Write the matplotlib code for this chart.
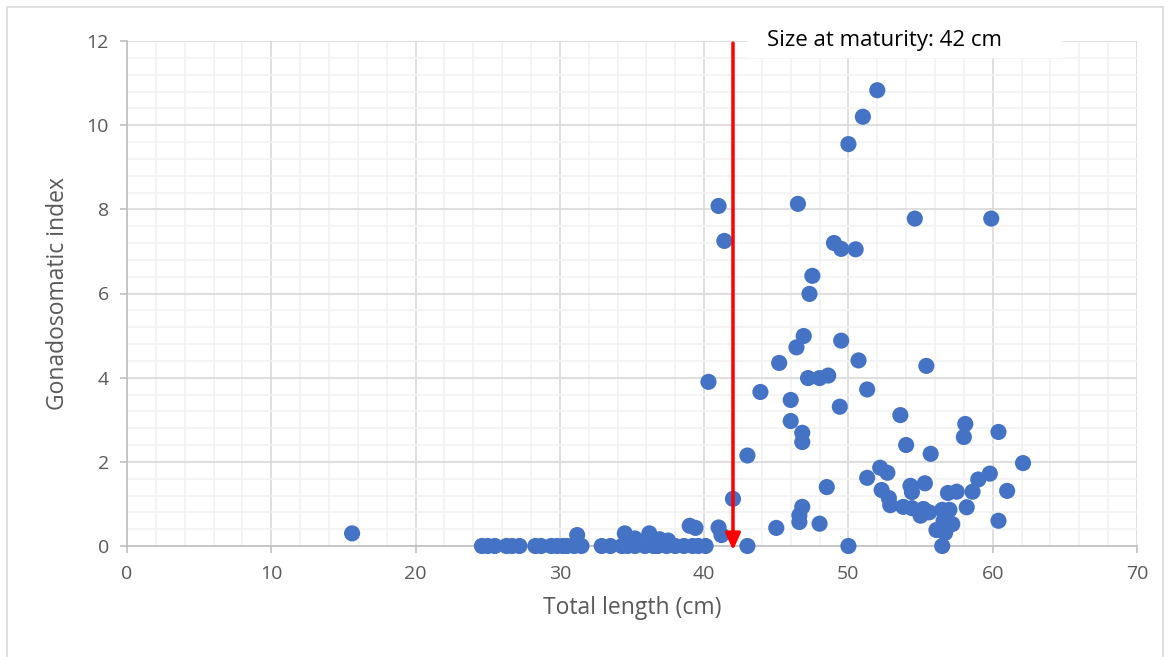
import matplotlib
matplotlib.use("Agg")
import matplotlib.pyplot as plt
from matplotlib.patches import Rectangle
import numpy as np

plt.rcParams['font.family'] = ['Open Sans', 'DejaVu Sans']

# fish that were measured but had no measurable gonads (GSI = 0)
zero_len = [24.6, 25.0, 25.5, 26.3, 26.7, 27.2, 28.3, 28.7, 29.4, 29.8, 30.2,
            30.5, 31.0, 31.5, 32.9, 33.5, 34.3, 34.7, 35.2, 35.9, 36.5, 36.8,
            37.4, 38.0, 38.6, 39.2, 39.6, 40.1, 43.0, 50.0, 56.5]

# small juveniles with slight GSI
low_len = [15.6, 31.2, 34.5, 35.2, 36.2, 36.9, 37.5, 39.0, 39.4, 41.0, 41.2]
low_gsi = [0.3, 0.26, 0.3, 0.18, 0.3, 0.16, 0.13, 0.48, 0.43, 0.44, 0.26]

# adults
big_len = [40.3, 41.0, 41.4, 42.0, 43.0, 43.9, 45.0, 45.2, 46.0, 46.0, 46.4,
           46.5, 46.6, 46.6, 46.8, 46.8, 46.8, 46.9, 47.2, 47.3, 47.5, 48.0,
           48.0, 48.5, 48.6, 49.0, 49.4, 49.5, 49.5, 50.0, 50.5, 50.7, 51.0,
           51.3, 51.3, 52.0, 52.2, 52.3, 52.7, 52.8, 52.9, 53.6, 53.8, 54.0,
           54.3, 54.4, 54.4, 54.6, 55.0, 55.2, 55.3, 55.4, 55.6, 55.7, 56.1,
           56.5, 56.6, 56.7, 56.9, 57.0, 57.2, 57.5, 58.0, 58.1, 58.2, 58.6,
           59.0, 59.8, 59.9, 60.4, 60.4, 61.0, 62.1]
big_gsi = [3.9, 8.08, 7.25, 1.12, 2.15, 3.66, 0.43, 4.35, 3.47, 2.97, 4.72,
           8.13, 0.57, 0.73, 0.93, 2.69, 2.47, 4.99, 3.99, 5.99, 6.42, 3.99,
           0.53, 1.4, 4.05, 7.2, 3.31, 4.88, 7.06, 9.55, 7.05, 4.41, 10.2,
           3.72, 1.62, 10.83, 1.86, 1.33, 1.74, 1.14, 0.97, 3.11, 0.93, 2.4,
           1.43, 1.28, 0.9, 7.78, 0.72, 0.88, 1.49, 4.28, 0.8, 2.19, 0.38,
           0.86, 0.6, 0.31, 1.26, 0.86, 0.52, 1.29, 2.59, 2.9, 0.92, 1.29,
           1.58, 1.72, 7.78, 2.71, 0.6, 1.31, 1.97]

maturity = 42

x = np.concatenate([zero_len, low_len, big_len])
y = np.concatenate([np.zeros(len(zero_len)), low_gsi, big_gsi])

fig = plt.figure(figsize=(11.7, 6.57), dpi=100)
ax = fig.add_axes([127/1170, 1-546/657, 1010/1170, 505/657])

# outer chart border like excel
fig.patches.append(Rectangle((7/1170, -0.05), 1156/1170, 1-7/657+0.05,
                             transform=fig.transFigure, fill=False,
                             ec='#D9D9D9', lw=1.2))

ax.set_xlim(0, 70)
ax.set_ylim(0, 12)
ax.set_xticks(np.arange(0, 71, 10))
ax.set_yticks(np.arange(0, 13, 2))
ax.set_xticks(np.arange(0, 71, 2), minor=True)
ax.set_yticks(np.arange(0, 12.01, 0.4), minor=True)
ax.grid(which='minor', color='#F2F2F2', lw=1.2, zorder=0)
ax.grid(which='major', color='#D9D9D9', lw=1.2, zorder=0)
ax.set_axisbelow(True)

for s in ['top', 'right']:
    ax.spines[s].set_visible(False)
for s in ['left', 'bottom']:
    ax.spines[s].set_color('#BFBFBF')
    ax.spines[s].set_linewidth(1.2)
ax.tick_params(which='major', length=5, color='#BFBFBF', labelcolor='#595959',
               labelsize=14, width=1.2)
ax.tick_params(which='minor', length=0)
ax.tick_params(axis='x', pad=9)
ax.tick_params(axis='y', pad=8)

ax.scatter(x, y, s=135, color='#4472C4', edgecolors='none', zorder=3,
           clip_on=False)

ax.annotate('', xy=(maturity, -0.1), xytext=(maturity, 11.95),
            arrowprops=dict(arrowstyle='-|>,head_width=0.45,head_length=1.0',
                            color='#FF0000', lw=2.5, shrinkA=0, shrinkB=0),
            annotation_clip=False, zorder=4)

ax.add_patch(Rectangle((42.97, 11.6), 21.9, 1.02, fc='white', ec='none',
                       clip_on=False, zorder=2))
ax.text(44.35, 12.02, 'Size at maturity: 42 cm', fontsize=16, color='black',
        va='center', ha='left', zorder=5)

ax.set_xlabel('Total length (cm)', fontsize=16.5, color='#595959', labelpad=9)
ax.set_ylabel('Gonadosomatic index', fontsize=16.5, color='#595959', labelpad=12)

fig.savefig('out.png', dpi=100)
